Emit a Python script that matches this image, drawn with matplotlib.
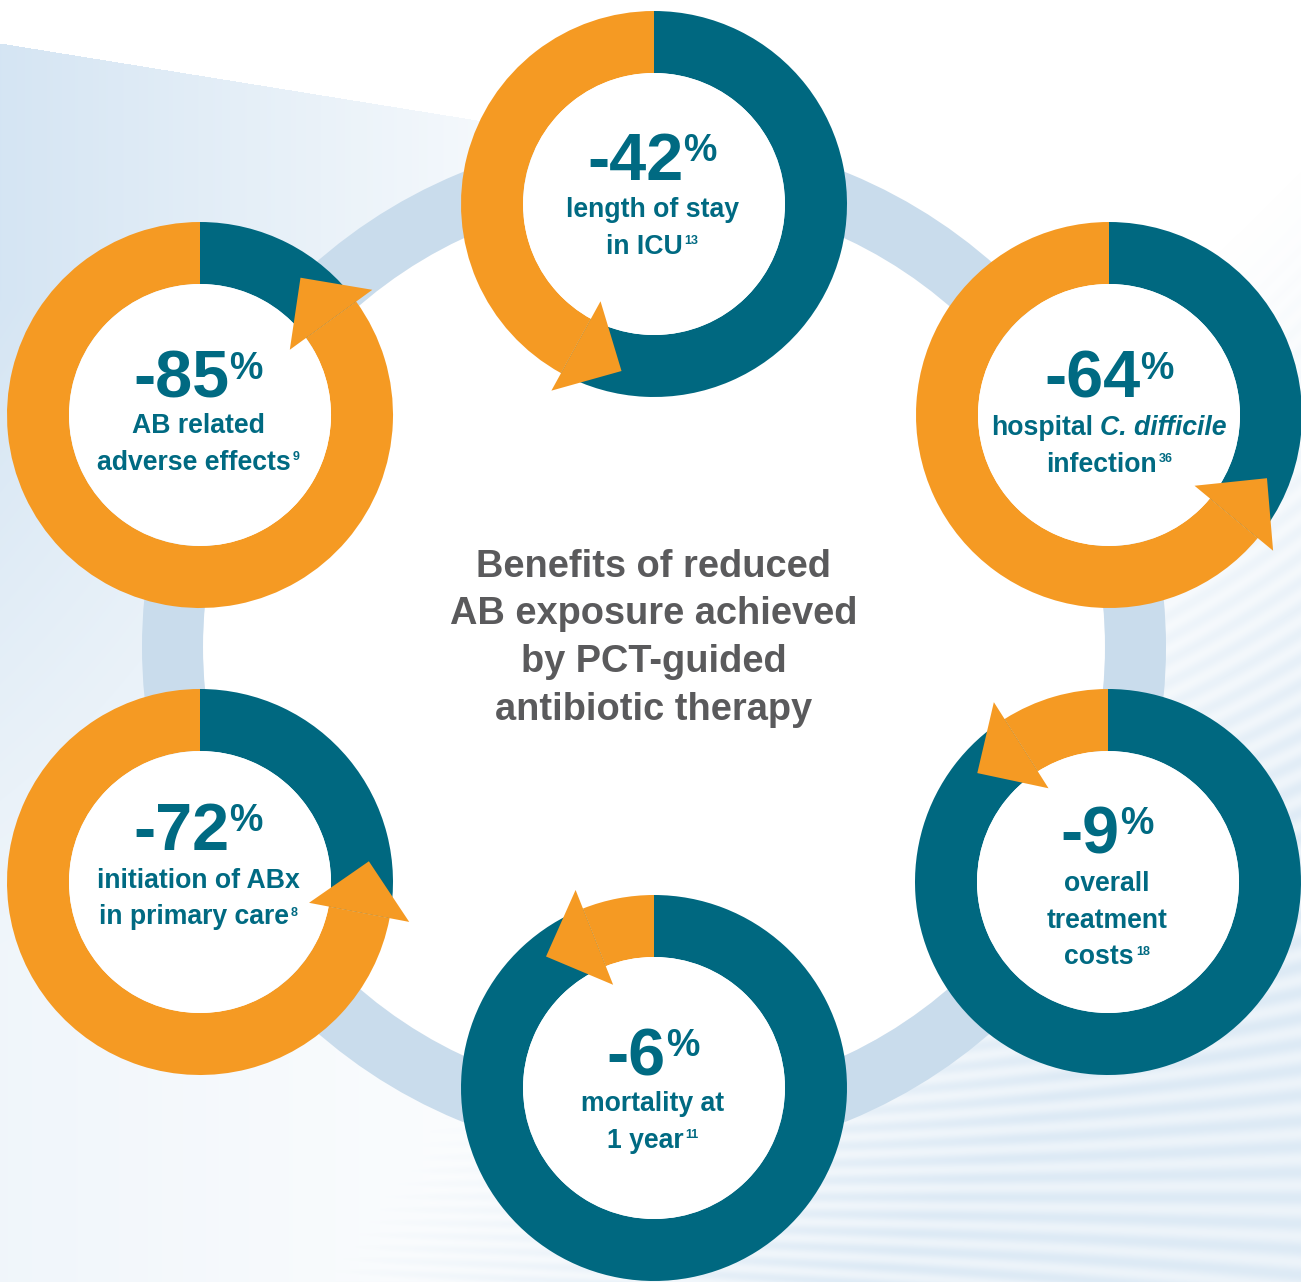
import numpy as np
import matplotlib
matplotlib.use("Agg")
import matplotlib.pyplot as plt
from matplotlib.patches import Wedge, Circle, Polygon

# ---------------- data ----------------
reductions = [42, 64, 9, 6, 72, 85]          # % reduction, clockwise from the top donut
references = ["13", "36", "18", "11", "8", "9"]
label_lines = [
    [[("length of stay", False)], [("in ICU", False)]],
    [[("hospital", False), ("C. difficile", True)], [("infection", False)]],
    [[("overall", False)], [("treatment", False)], [("costs", False)]],
    [[("mortality at", False)], [("1 year", False)]],
    [[("initiation of ABx", False)], [("in primary care", False)]],
    [[("AB related", False)], [("adverse effects", False)]],
]
center_title = ["Benefits of reduced", "AB exposure achieved",
                "by PCT-guided", "antibiotic therapy"]

# ---------------- style / layout ----------------
W, H = 1301, 1282
TEAL = "#006880"
ORANGE = "#f59a23"
RING = "#c9dcec"
TEXT_TEAL = "#006a82"
GRAY = "#5a5a5c"
FONT = ["Liberation Sans", "DejaVu Sans"]

# donut centres in pixel space (y measured from the top)
centers = [(654, 204), (1109, 415), (1108, 882), (654, 1088), (200, 882), (200, 415)]
num_base = [180, 398, 853, 1075, 850, 398]
first_line_base = [217, 435, 891, 1111, 888, 433]
text_cx = [652, 1109, 1107, 653, 198, 198]
LINE_PITCH = 36.5
R_OUT, R_IN = 193, 131
ARROW_IN, ARROW_OUT, ARROW_LEN = 111, 213, 52
RING_C, RING_OUT, RING_IN = (654, 647), 512, 451

fig = plt.figure(figsize=(W / 100, H / 100), dpi=100)
ax = fig.add_axes([0, 0, 1, 1])
ax.set_xlim(0, W)
ax.set_ylim(0, H)
ax.axis("off")


def Y(y_img):
    return H - y_img


# ---------------- background ----------------
yy, xx = np.mgrid[0:H, 0:W].astype(float)
tint = np.array([0.835, 0.898, 0.953])
a1 = np.where(yy > 43 + 0.1615 * xx, np.clip(1 - xx / 640, 0, 1), 0.0)
a1 *= np.clip(1.3 - yy / 1000, 0.35, 1)
k = 0.45 - 0.5 * (yy - 700) / 550
p = yy + k * (xx - 1100)
stripe = 0.5 + 0.5 * np.cos(2 * np.pi * p / 21)
a2 = np.clip(1.5 * xx / W + 1.5 * yy / H - 1.7, 0, 0.8) * (0.55 + 0.45 * stripe)
alpha = np.maximum(a1, a2)
bg = 1 - alpha[..., None] * (1 - tint)
ax.imshow(bg, extent=(0, W, 0, H), origin="upper", zorder=0, aspect="auto")

# central ring
rc = (RING_C[0], Y(RING_C[1]))
ax.add_patch(Circle(rc, RING_IN, color="white", zorder=1, lw=0))
ax.add_patch(Wedge(rc, RING_OUT, 0, 360, width=RING_OUT - RING_IN,
                   color=RING, zorder=2, lw=0))

# ---------------- donuts ----------------
for (cx, cy), v in zip(centers, reductions):
    c = np.array([cx, Y(cy)], dtype=float)
    sweep = v / 100 * 360
    end = 90 + sweep
    ax.add_patch(Wedge(c, R_OUT, end, 450, width=R_OUT - R_IN,
                       color=TEAL, zorder=3, lw=0))
    ax.add_patch(Wedge(c, R_OUT, 90, end, width=R_OUT - R_IN,
                       color=ORANGE, zorder=3, lw=0))
    ax.add_patch(Circle(c, R_IN, color="white", zorder=4, lw=0))
    phi = np.deg2rad(end)
    u = np.array([np.cos(phi), np.sin(phi)])
    t = np.array([-np.sin(phi), np.cos(phi)])
    mid = (ARROW_IN + ARROW_OUT) / 2
    tri = [c + ARROW_IN * u, c + ARROW_OUT * u, c + mid * u + ARROW_LEN * t]
    ax.add_patch(Polygon(tri, closed=True, color=ORANGE, zorder=5, lw=0))

# ---------------- text ----------------
renderer = fig.canvas.get_renderer()


def place_line(cx, base_img, segs):
    arts, widths = [], []
    for s in segs:
        txt = ax.text(0, 0, s["text"], fontsize=s["size"], fontweight="bold",
                      fontstyle="italic" if s.get("italic") else "normal",
                      color=s.get("color", TEXT_TEAL), family=FONT,
                      ha="left", va="baseline", zorder=6)
        arts.append(txt)
        widths.append(txt.get_window_extent(renderer=renderer).width)
    total = sum(widths) + sum(s.get("gap", 0) for s in segs)
    x = cx - total / 2
    for txt, w, s in zip(arts, widths, segs):
        x += s.get("gap", 0)
        txt.set_position((x, Y(base_img) + s.get("raise", 0)))
        x += w


NUM_SIZE, PCT_SIZE, LBL_SIZE, SUP_SIZE = 48, 27, 19.2, 9
for i, v in enumerate(reductions):
    place_line(text_cx[i], num_base[i], [
        {"text": f"-{v}", "size": NUM_SIZE},
        {"text": "%", "size": PCT_SIZE, "raise": 19, "gap": 0},
    ])
    lines = label_lines[i]
    for j, line in enumerate(lines):
        segs = []
        for n, (txt, ital) in enumerate(line):
            segs.append({"text": txt, "size": LBL_SIZE, "italic": ital,
                         "gap": 7 if n > 0 else 0})
        if j == len(lines) - 1:
            segs.append({"text": references[i], "size": SUP_SIZE,
                         "raise": 9, "gap": 2})
        place_line(text_cx[i], first_line_base[i] + j * LINE_PITCH, segs)

for j, line in enumerate(center_title):
    ax.text(654, Y(577 + j * 47.5), line, fontsize=27.4, fontweight="bold",
            color=GRAY, family=FONT, ha="center", va="baseline", zorder=6)

fig.savefig("out.png", dpi=100)
